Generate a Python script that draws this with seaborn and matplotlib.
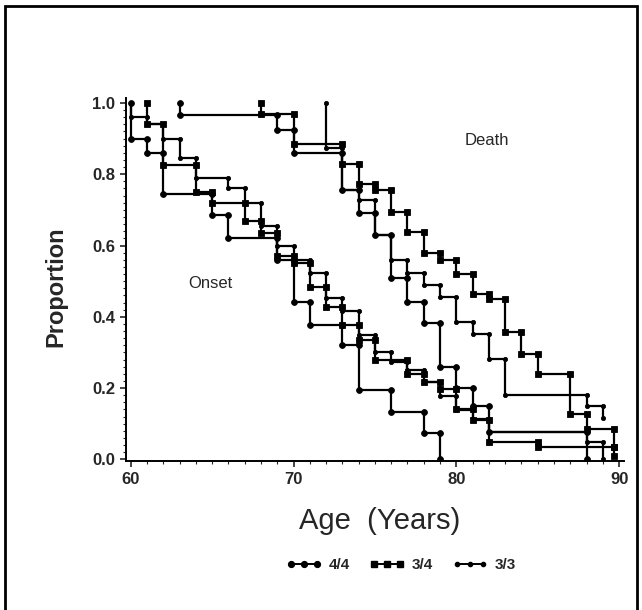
import matplotlib
matplotlib.use("Agg")
import matplotlib.pyplot as plt
import seaborn as sns
import pandas as pd
from matplotlib.lines import Line2D
from matplotlib.patches import Rectangle
from matplotlib.ticker import MultipleLocator, FormatStrFormatter

# Kaplan-Meier style curves: age of each step and proportion after that step
onset_44_age = [60, 61, 62, 65, 66, 69, 70, 71, 73, 74, 76, 78, 79]
onset_44_prop = [0.90, 0.86, 0.745, 0.685, 0.62, 0.559, 0.441, 0.376, 0.32, 0.194, 0.132, 0.073, 0.0]

onset_34_age = [61, 62, 64, 65, 67, 68, 69, 70, 71, 72, 73, 74, 75, 77, 78, 79, 80, 81, 82, 85, 89.7]
onset_34_prop = [0.94, 0.825, 0.75, 0.72, 0.67, 0.635, 0.57, 0.55, 0.483, 0.427, 0.376, 0.334,
                 0.278, 0.24, 0.216, 0.197, 0.14, 0.11, 0.049, 0.034, 0.034]

onset_33_age = [60, 61, 62, 63, 64, 66, 67, 68, 69, 70, 71, 72, 73, 74, 75, 76, 77, 78, 79, 80, 81, 82, 88, 89]
onset_33_prop = [0.96, 0.94, 0.90, 0.845, 0.79, 0.76, 0.72, 0.655, 0.60, 0.559, 0.522, 0.452, 0.415,
                 0.348, 0.30, 0.272, 0.25, 0.216, 0.178, 0.138, 0.112, 0.077, 0.049, 0.0]

death_44_age = [63, 69, 70, 73, 74, 75, 76, 77, 78, 79, 80, 81, 82, 88]
death_44_prop = [0.966, 0.925, 0.86, 0.756, 0.69, 0.629, 0.508, 0.441, 0.382, 0.258, 0.20, 0.15, 0.077, 0.0]

death_34_age = [68, 70, 73, 74, 75, 76, 77, 78, 79, 80, 81, 82, 83, 84, 85, 87, 88, 89.7]
death_34_prop = [0.97, 0.885, 0.83, 0.772, 0.756, 0.694, 0.638, 0.58, 0.56, 0.52, 0.465, 0.45,
                 0.356, 0.296, 0.24, 0.128, 0.085, 0.01]

death_33_age = [72, 73, 74, 75, 76, 77, 78, 79, 80, 81, 82, 83, 88, 89]
death_33_prop = [0.875, 0.756, 0.727, 0.629, 0.559, 0.522, 0.489, 0.455, 0.385, 0.353, 0.283, 0.18, 0.15, 0.115]

genotypes = ["4/4", "3/4", "3/3"]
markers = {"4/4": "o", "3/4": "s", "3/3": "o"}
msizes = {"4/4": 4.2, "3/4": 4.2, "3/3": 3.0}

curves = [
    ("4/4", onset_44_age, onset_44_prop),
    ("3/4", onset_34_age, onset_34_prop),
    ("3/3", onset_33_age, onset_33_prop),
    ("4/4", death_44_age, death_44_prop),
    ("3/4", death_34_age, death_34_prop),
    ("3/3", death_33_age, death_33_prop),
]


def km_path(ages, props):
    xs, ys = [], []
    prev = 1.0
    for a, p in zip(ages, props):
        xs += [a, a]
        ys += [prev, p]
        prev = p
    return pd.DataFrame({"age": xs, "prop": ys})


sns.set_style("ticks")
plt.rcParams["font.family"] = ["Liberation Sans", "DejaVu Sans"]

fig = plt.figure(figsize=(6.42, 6.10), dpi=100)
ax = fig.add_axes([0.196, 0.244, 0.776, 0.596])

for g, ages, props in curves:
    df = km_path(ages, props)
    sns.lineplot(data=df, x="age", y="prop", sort=False, estimator=None, ax=ax,
                 color="black", linewidth=1.6, marker=markers[g], markersize=msizes[g],
                 markeredgewidth=0.6, markeredgecolor="black")

ax.text(81.9, 0.896, "Death", ha="center", va="center", fontsize=12)
ax.text(64.9, 0.494, "Onset", ha="center", va="center", fontsize=12)

ax.set_xlim(59.7, 90.3)
ax.set_ylim(-0.005, 1.015)
ax.set_xticks([60, 70, 80, 90])
ax.xaxis.set_minor_locator(MultipleLocator(1))
ax.yaxis.set_major_locator(MultipleLocator(0.2))
ax.yaxis.set_minor_locator(MultipleLocator(0.02))
ax.yaxis.set_major_formatter(FormatStrFormatter("%.1f"))
ax.tick_params(which="major", direction="out", length=4, width=1.2, labelsize=12)
ax.tick_params(which="minor", direction="out", length=2.2, width=0.8)
for lab in ax.get_xticklabels() + ax.get_yticklabels():
    lab.set_fontweight("bold")
sns.despine(ax=ax)
for s in ["left", "bottom"]:
    ax.spines[s].set_linewidth(1.4)
    ax.spines[s].set_color("black")

ax.set_xlabel("Age  (Years)", fontsize=21)
ax.set_ylabel("Proportion", fontsize=17, fontweight="bold")
ax.xaxis.set_label_coords(0.51, -0.125)
ax.yaxis.set_label_coords(-0.118, 0.479)

handles = [Line2D([0], [0], color="black", linewidth=1.4, marker=markers[g], markersize=msizes[g])
           for g in genotypes]
fig.legend(handles, genotypes, loc="center", bbox_to_anchor=(0.625, 0.074), ncol=3,
           frameon=False, numpoints=3, handlelength=2.3, columnspacing=1.3, handletextpad=0.45,
           prop={"size": 11, "weight": "bold"})

fig.add_artist(Rectangle((0.008, -0.05), 0.984, 1.04, transform=fig.transFigure,
                         fill=False, linewidth=2, edgecolor="black"))

fig.savefig("out.png", dpi=100)
